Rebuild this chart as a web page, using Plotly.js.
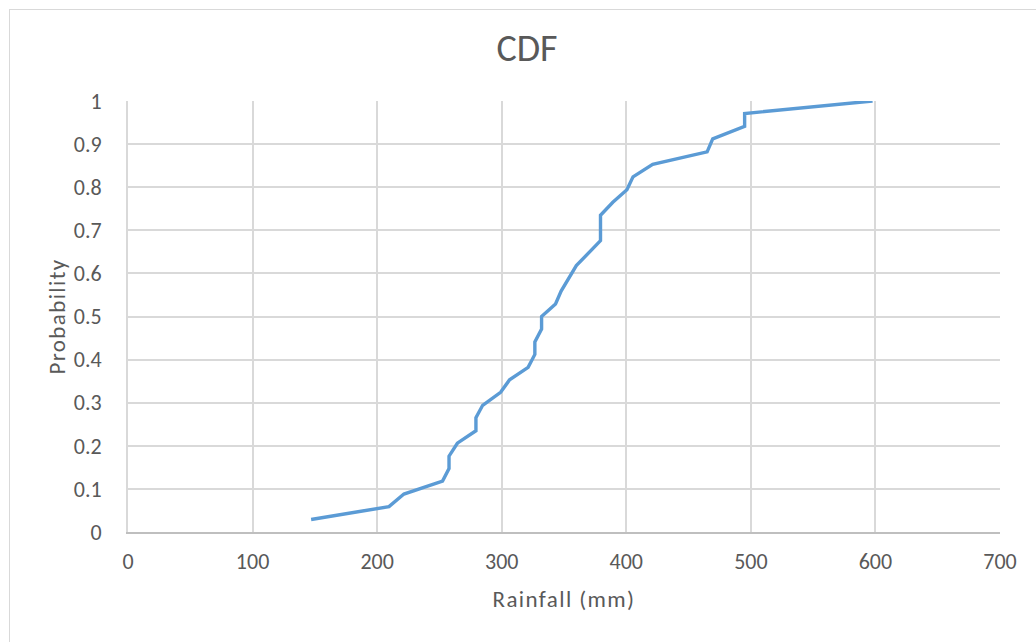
<!DOCTYPE html>
<html>
<head>
<meta charset="utf-8">
<script src="https://cdn.plot.ly/plotly-3.0.1.min.js"></script>
<style>
  html, body { margin: 0; padding: 0; background: #ffffff; }
  #frame {
    position: absolute; left: 9px; top: 9px; width: 1040px; height: 640px;
    border: 1px solid #d9d9d9; box-sizing: border-box;
  }
  #chart { position: absolute; left: 0; top: 0; width: 1036px; height: 642px; }
  .g-xtitle text, .g-ytitle text { letter-spacing: 1.4px; }
</style>
</head>
<body>
<div id="frame"></div>
<div id="chart"></div>
<script>
// Empirical CDF of rainfall totals
const rainfall = [147, 209.5, 221.5, 252.5, 257.7, 257.7, 264.4, 279.3, 279.3, 284.7,
                  299.1, 306.3, 321.2, 326.6, 326.6, 332, 332, 343.2, 347.7, 353.6,
                  359.9, 379.3, 379.3, 389.2, 400.5, 405.4, 421.2, 464.9, 469.4, 495,
                  495, 597.7];
const probability = [0.029, 0.059, 0.088, 0.118, 0.147, 0.176, 0.206, 0.235, 0.265, 0.294,
                     0.324, 0.353, 0.382, 0.412, 0.441, 0.471, 0.5, 0.529, 0.559, 0.588,
                     0.618, 0.676, 0.735, 0.765, 0.794, 0.824, 0.853, 0.882, 0.912, 0.941,
                     0.971, 1.0];

const xTicks = [0, 100, 200, 300, 400, 500, 600, 700];
const yTicks = [0, 0.1, 0.2, 0.3, 0.4, 0.5, 0.6, 0.7, 0.8, 0.9, 1];
const yTickText = ['0', '0.1', '0.2', '0.3', '0.4', '0.5', '0.6', '0.7', '0.8', '0.9', '1'];

const fontFamily = 'Carlito, Lato, "Open Sans", sans-serif';
const textColor = '#595959';
const gridColor = '#d9d9d9';

const trace = {
  x: rainfall,
  y: probability,
  type: 'scatter',
  mode: 'lines',
  line: { color: '#5b9bd5', width: 3.4 },
  hoverinfo: 'x+y'
};

const layout = {
  width: 1036,
  height: 642,
  margin: { l: 128, r: 36, t: 101, b: 110 },
  paper_bgcolor: 'rgba(0,0,0,0)',
  plot_bgcolor: 'rgba(0,0,0,0)',
  showlegend: false,
  font: { family: fontFamily, color: textColor },
  title: {
    text: 'CDF',
    font: { family: fontFamily, size: 38, color: textColor },
    xref: 'container', yref: 'container',
    x: 0.5087, xanchor: 'center',
    y: 0.925, yanchor: 'middle'
  },
  xaxis: {
    range: [0, 700],
    tickmode: 'array',
    tickvals: xTicks,
    ticktext: xTicks.map(String),
    showgrid: true,
    gridcolor: gridColor,
    gridwidth: 2,
    zeroline: false,
    showline: true,
    linecolor: '#bfbfbf',
    linewidth: 2,
    ticks: '',
    ticklabelstandoff: 9,
    tickfont: { family: fontFamily, size: 22, color: textColor },
    title: {
      text: 'Rainfall (mm)',
      font: { family: fontFamily, size: 23, color: textColor },
      standoff: 16
    },
    fixedrange: true
  },
  yaxis: {
    range: [0, 1],
    tickmode: 'array',
    tickvals: yTicks,
    ticktext: yTickText,
    showgrid: true,
    gridcolor: gridColor,
    gridwidth: 2,
    zeroline: false,
    showline: true,
    linecolor: gridColor,
    linewidth: 2,
    ticks: '',
    ticklabelstandoff: 20,
    tickfont: { family: fontFamily, size: 22, color: textColor },
    title: {
      text: 'Probability',
      font: { family: fontFamily, size: 23, color: textColor },
      standoff: 2
    },
    fixedrange: true
  }
};

Plotly.newPlot('chart', [trace], layout, { displayModeBar: false, staticPlot: true });
</script>
</body>
</html>
